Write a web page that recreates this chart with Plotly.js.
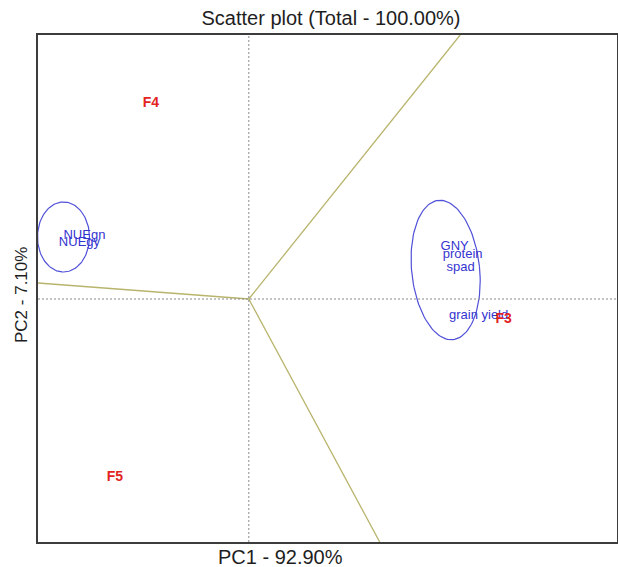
<!DOCTYPE html>
<html>
<head>
<meta charset="utf-8">
<script src="https://cdn.plot.ly/plotly-3.0.1.min.js"></script>
<style>
  html, body { margin: 0; padding: 0; background: #ffffff; }
  #chart { width: 618px; height: 567px; }
</style>
</head>
<body>
<div id="chart"></div>
<script>
// Environment scores on the first two principal components
const envNames = ['F3', 'F4', 'F5'];
const envPC1 = [2.55, -0.98, -1.34];
const envPC2 = [-0.20, 1.96, -1.78];

// Trait scores
const traitNames = ['NUEgn', 'NUEgy', 'GNY', 'protein', 'spad', 'grain yield'];
const traitPC1 = [-1.645, -1.695, 2.06, 2.14, 2.12, 2.30];
const traitPC2 = [0.63, 0.56, 0.52, 0.44, 0.31, -0.17];

// Sector boundary rays drawn from the origin
const rayPC1 = [2.115, -2.11, 1.31];
const rayPC2 = [2.64, 0.16, -2.43];

// Trait group ellipses: centre, semi-axes and tilt (degrees)
const ellCx = [-1.855, 1.97];
const ellCy = [0.62, 0.29];
const ellRx = [0.26, 0.34];
const ellRy = [0.35, 0.70];
const ellTilt = [0, 6];

const xRange = [-2.11, 3.685];
const yRange = [-2.43, 2.64];

const FONT = 'Liberation Sans, Arial, sans-serif';
const traces = [];

// rays
const rx = [], ry = [];
rayPC1.forEach((v, i) => { rx.push(0, v, null); ry.push(0, rayPC2[i], null); });
traces.push({
  x: rx, y: ry, mode: 'lines', type: 'scatter', hoverinfo: 'skip',
  line: { color: '#b9b46c', width: 1.3 }
});

// ellipses
ellCx.forEach((cx, k) => {
  const ex = [], ey = [];
  const phi = ellTilt[k] * Math.PI / 180;
  for (let s = 0; s <= 120; s++) {
    const t = 2 * Math.PI * s / 120;
    const a = ellRx[k] * Math.cos(t), b = ellRy[k] * Math.sin(t);
    ex.push(cx + a * Math.cos(phi) - b * Math.sin(phi));
    ey.push(ellCy[k] + a * Math.sin(phi) + b * Math.cos(phi));
  }
  traces.push({
    x: ex, y: ey, mode: 'lines', type: 'scatter', hoverinfo: 'skip',
    line: { color: '#5050d8', width: 1.2 }
  });
});

// trait labels
traces.push({
  x: traitPC1, y: traitPC2, text: traitNames, mode: 'text', type: 'scatter',
  textposition: 'middle center', cliponaxis: false,
  textfont: { family: FONT, size: 13, color: '#3434d0' }
});

// environment labels
traces.push({
  x: envPC1, y: envPC2, text: envNames.map(n => '<b>' + n + '</b>'), mode: 'text', type: 'scatter',
  textposition: 'middle center', cliponaxis: false,
  textfont: { family: FONT, size: 14, color: '#e3241f' }
});

const axisBase = {
  showline: true, mirror: true, linecolor: '#3c3c3c', linewidth: 2,
  showgrid: false, zeroline: false, ticks: '', showticklabels: false, fixedrange: true
};

const layout = {
  width: 618, height: 567,
  margin: { l: 38, r: 1, t: 35, b: 25 },
  paper_bgcolor: '#ffffff', plot_bgcolor: '#ffffff',
  showlegend: false,
  title: {
    text: 'Scatter plot (Total - 100.00%)',
    font: { family: FONT, size: 20, color: '#1e1e1e' },
    x: 331 / 618, xanchor: 'center', xref: 'container',
    y: 1 - 18 / 567, yanchor: 'middle', yref: 'container'
  },
  xaxis: Object.assign({ range: xRange }, axisBase),
  yaxis: Object.assign({ range: yRange }, axisBase),
  shapes: [
    { type: 'line', xref: 'x', yref: 'paper', x0: 0, x1: 0, y0: 0, y1: 1,
      line: { color: '#8a8a8a', width: 1, dash: '2px,2px' } },
    { type: 'line', xref: 'paper', yref: 'y', x0: 0, x1: 1, y0: 0, y1: 0,
      line: { color: '#8a8a8a', width: 1, dash: '2px,2px' } }
  ],
  annotations: [
    { text: 'PC1 - 92.90%', xref: 'paper', yref: 'paper',
      x: (280 - 38) / 579, y: (542 - 557) / 507, xanchor: 'center', yanchor: 'middle',
      showarrow: false, font: { family: FONT, size: 20, color: '#1e1e1e' } },
    { text: 'PC2 - 7.10%', xref: 'paper', yref: 'paper', textangle: -90,
      x: (21 - 38) / 579, y: (542 - 295) / 507, xanchor: 'center', yanchor: 'middle',
      showarrow: false, font: { family: FONT, size: 17, color: '#1e1e1e' } }
  ]
};

Plotly.newPlot('chart', traces, layout, { displayModeBar: false, staticPlot: true });
</script>
</body>
</html>
